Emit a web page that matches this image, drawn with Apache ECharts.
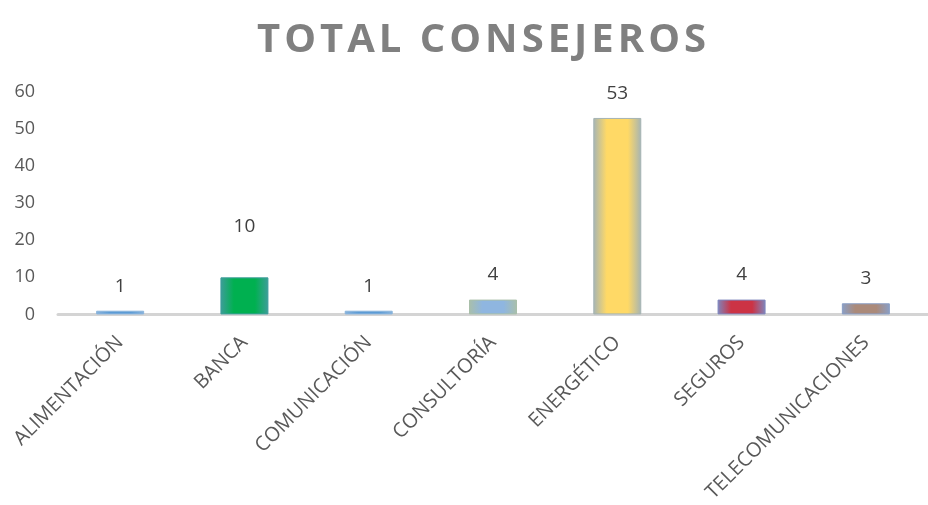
<!DOCTYPE html>
<html><head><meta charset="utf-8">
<script src="https://cdn.jsdelivr.net/npm/echarts@6/dist/echarts.min.js"></script>
<style>html,body{margin:0;padding:0;background:#fff}#c{width:928px;height:505px}</style>
</head><body><div id="c"></div>
<script>
const categories = ['ALIMENTACIÓN','BANCA','COMUNICACIÓN','CONSULTORÍA','ENERGÉTICO','SEGUROS','TELECOMUNICACIONES'];
const values = [1, 10, 1, 4, 53, 4, 3];
const yTicks = [0, 10, 20, 30, 40, 50, 60];
const titleText = 'TOTAL CONSEJEROS';

const barColors = [
  ['#5b9bd5','#8ab4dc'],
  ['#00b050','#3e9d9a'],
  ['#5b9bd5','#8ab4dc'],
  ['#8fb6e0','#a9bfaa'],
  ['#ffd966','#a5b4b4'],
  ['#cc3345','#7e86bd'],
  ['#ab8a7a','#8a9fc6']
];
const FONT = '"Open Sans", "Noto Sans", sans-serif';

function grad(c) {
  return new echarts.graphic.LinearGradient(0, 0, 1, 0, [
    { offset: 0, color: c[1] },
    { offset: 0.28, color: c[0] },
    { offset: 0.72, color: c[0] },
    { offset: 1, color: c[1] }
  ]);
}

const chart = echarts.init(document.getElementById('c'));
chart.setOption({
  animation: false,
  title: {
    text: titleText.split('').join('\u200A'),
    left: 252, top: 16,
    textStyle: { fontFamily: FONT, fontSize: 40, fontWeight: 'bold', color: '#808080' }
  },
  grid: { left: 58, right: -14, top: 92, bottom: 190, containLabel: false },
  xAxis: {
    type: 'category', data: categories,
    axisLine: { lineStyle: { color: '#d4d4d4', width: 3 } },
    axisTick: { show: false },
    axisLabel: { rotate: 45, interval: 0, margin: 25, fontFamily: FONT, fontSize: 20, color: '#595959' }
  },
  yAxis: {
    type: 'value', min: yTicks[0], max: yTicks[yTicks.length-1], interval: 10,
    axisLine: { show: false }, axisTick: { show: false }, splitLine: { show: false },
    axisLabel: { margin: 23, fontFamily: FONT, fontSize: 18, color: '#595959' }
  },
  series: [{
    type: 'bar', barWidth: 48,
    data: values.map((v, i) => ({
      value: v,
      itemStyle: { color: grad(barColors[i]), borderColor: barColors[i][1], borderWidth: 1 },
      label: i === 1 ? { offset: [0, -26] } : {}
    })),
    label: { show: true, position: 'top', distance: 15, fontFamily: FONT, fontSize: 19, color: '#404040' }
  }]
});
</script></body></html>
